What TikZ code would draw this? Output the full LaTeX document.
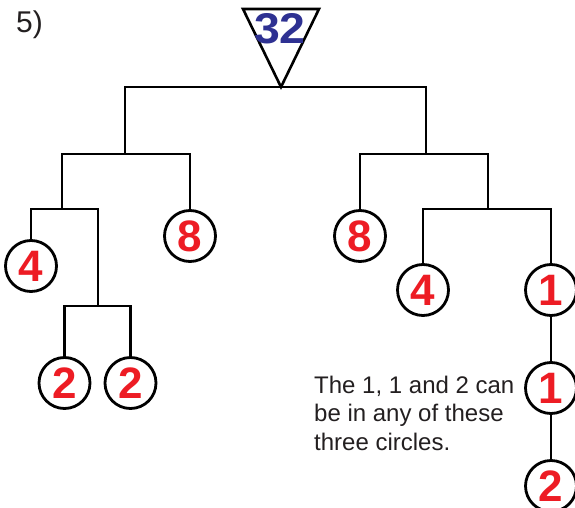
\documentclass[tikz,border=0pt]{standalone}
\usepackage{fontspec}
\setmainfont{Liberation Sans}
\definecolor{numred}{HTML}{ED1C24}
\definecolor{numblue}{HTML}{2E3192}
\definecolor{txtgray}{HTML}{231F20}
\begin{document}
\begin{tikzpicture}[x=1pt,y=-1pt,
  numcircle/.style={circle,draw=black,line width=2.8pt,minimum size=51pt,inner sep=0pt,
    text=numred,font=\fontsize{44}{44}\selectfont\bfseries},
  conn/.style={draw=black,line width=2.8pt}]
\useasboundingbox (0,0) rectangle (575,508);
% label
\node[anchor=base west,inner sep=0pt,text=txtgray,font=\fontsize{30}{30}\selectfont] (lbl) at (16,33) {5)};
% root triangle
\coordinate (t1) at (243,9);
\coordinate (t2) at (319,9);
\coordinate (apex) at (281,87);
\draw[line width=2.6pt,line join=miter] (t1) -- (t2) -- (apex) -- cycle;
\node[inner sep=0pt,text=numblue,font=\fontsize{43}{43}\selectfont\bfseries,xscale=1.08] (root) at (280,29) {32};
% circles
\node[numcircle] (c4a) at (31,266) {4};
\node[numcircle] (c2a) at (64.5,383) {2};
\node[numcircle] (c2b) at (130.5,383) {2};
\node[numcircle] (c8a) at (190,236) {8};
\node[numcircle] (c8b) at (360,236) {8};
\node[numcircle] (c4b) at (423,290) {4};
\node[numcircle] (c1a) at (551,290) {1};
\node[numcircle] (c1b) at (551,388) {1};
\node[numcircle] (c2c) at (551,486) {2};
% junctions
\coordinate (pL) at (125,154);
\coordinate (pR) at (426,154);
\coordinate (pLL) at (62,209);
\coordinate (pLLR) at (98,306);
\coordinate (pRR) at (488,209);
% connectors
\draw[conn] (pL) |- (apex) -| (pR);
\draw[conn] (pLL) |- (pL) -| (c8a.north);
\draw[conn] (c4a.north) |- (pLL) -| (pLLR);
\draw[conn] (c2a.north) |- (pLLR) -| (c2b.north);
\draw[conn] (c8b.north) |- (pR) -| (pRR);
\draw[conn] (c4b.north) |- (pRR) -| (c1a.north);
\draw[conn] (c1a) -- (c1b);
\draw[conn] (c1b) -- (c2c);
% note
\node[anchor=base west,inner sep=0pt,align=left,text=txtgray,font=\fontsize{24}{28.5}\selectfont] (note) at (314,450)
  {The 1, 1 and 2 can\\be in any of these\\three circles.};
\end{tikzpicture}
\end{document}
